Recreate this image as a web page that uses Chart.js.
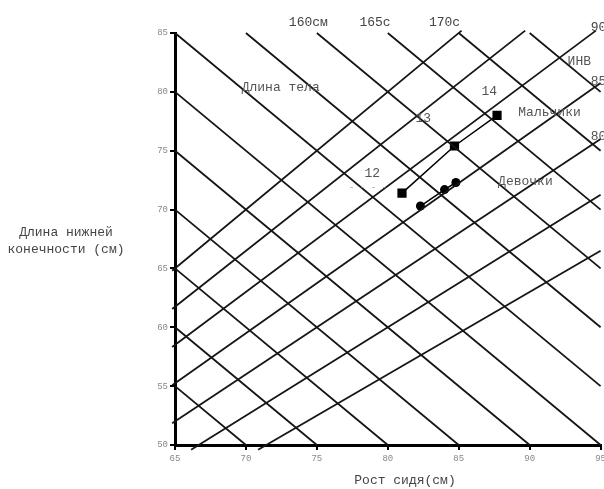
<!DOCTYPE html>
<html>
<head>
<meta charset="utf-8">
<script src="https://cdn.jsdelivr.net/npm/chart.js@4"></script>
<style>
  html, body { margin: 0; padding: 0; background: #fff; overflow: hidden; }
  #wrap { width: 609px; height: 489px; position: relative; }
</style>
</head>
<body>
<div id="wrap"><canvas id="myChart"></canvas></div>
<script>
// рост сидя (x) и длина нижней конечности (y), см
var boysX  = [81.0, 84.7, 87.7];
var boysY  = [71.4, 75.4, 78.0];
var girlsX = [82.3, 84.0, 84.8];
var girlsY = [70.3, 71.7, 72.3];
var ages   = ['12', '13', '14'];

// сетка номограммы: длина тела (x + y) и ИНВ (y / x * 100)
var bodyLengths = [120, 125, 130, 135, 140, 145, 150, 155, 160, 165, 170, 175];
var invLines    = [70, 75, 80, 85, 90, 95, 100];

var xTicks = [65, 70, 75, 80, 85, 90, 95];
var yTicks = [50, 55, 60, 65, 70, 75, 80, 85];

var MONO = '"Liberation Mono", "DejaVu Sans Mono", monospace';

var datasets = [];

bodyLengths.forEach(function(s) {
    var x0 = Math.max(65, s - 85), x1 = Math.min(95, s - 50);
    datasets.push({
        data: [{ x: x0, y: s - x0 }, { x: x1, y: s - x1 }],
        borderColor: '#151515', borderWidth: 1.8, pointRadius: 0,
        showLine: true, clip: false
    });
});

invLines.forEach(function(k) {
    var r = k / 100;
    var x0 = Math.max(64.8, 49.6 / r);
    var x1 = Math.min(95, 85.2 / r);
    datasets.push({
        data: [{ x: x0, y: x0 * r }, { x: x1, y: x1 * r }],
        borderColor: '#151515', borderWidth: 1.8, pointRadius: 0,
        showLine: true, clip: false
    });
});

datasets.push({
    label: 'Мальчики',
    data: boysX.map(function(v, i) { return { x: v, y: boysY[i] }; }),
    showLine: true, borderColor: '#000', borderWidth: 1.5,
    pointStyle: 'rect', pointRadius: 6.5, backgroundColor: '#000', pointBorderWidth: 0
});
datasets.push({
    label: 'Девочки',
    data: girlsX.map(function(v, i) { return { x: v, y: girlsY[i] }; }),
    showLine: true, borderColor: '#000', borderWidth: 1.5,
    pointStyle: 'circle', pointRadius: 4.5, backgroundColor: '#000', pointBorderWidth: 0
});

// подписи в координатах данных
var notes = [
    { t: '160см', x: 74.4, y: 85.9, c: '#444', a: 'center' },
    { t: '165с', x: 79.1, y: 85.9, c: '#444', a: 'center' },
    { t: '170с', x: 84.0, y: 85.9, c: '#444', a: 'center' },
    { t: '90', x: 94.3, y: 85.5, c: '#444', a: 'left' },
    { t: 'ИНВ', x: 93.5, y: 82.6, c: '#555', a: 'center' },
    { t: '85', x: 94.3, y: 80.9, c: '#555', a: 'left' },
    { t: '80', x: 94.3, y: 76.2, c: '#555', a: 'left' },
    { t: 'Длина тела', x: 72.45, y: 80.4, c: '#555', a: 'center' },
    { t: ages[2], x: 87.15, y: 80.0, c: '#555', a: 'center' },
    { t: ages[1], x: 82.5, y: 77.7, c: '#555', a: 'center' },
    { t: ages[0], x: 78.9, y: 73.1, c: '#555', a: 'center' },
    { t: '- - - -', x: 78.6, y: 71.85, c: '#999', a: 'center', small: true },
    { t: 'Мальчики', x: 91.4, y: 78.2, c: '#555', a: 'center' },
    { t: 'Девочки', x: 89.7, y: 72.35, c: '#555', a: 'center' }
];

var notesPlugin = {
    id: 'notes',
    afterDraw: function(chart) {
        var ctx = chart.ctx, xs = chart.scales.x, ys = chart.scales.y;
        ctx.save();
        ctx.textBaseline = 'middle';
        notes.forEach(function(n) {
            ctx.font = (n.small ? '9px ' : '13px ') + MONO;
            ctx.fillStyle = n.c;
            ctx.textAlign = n.a;
            ctx.fillText(n.t, xs.getPixelForValue(n.x), ys.getPixelForValue(n.y));
        });
        // подписи осей
        ctx.font = '13px ' + MONO;
        ctx.fillStyle = '#444';
        ctx.textAlign = 'center';
        ctx.fillText('Длина нижней', 66, 233);
        ctx.fillText('конечности (см)', 66, 250);
        ctx.fillText('Рост сидя(см)', 405, 481);
        ctx.restore();
    }
};

var ctx = document.getElementById('myChart');
new Chart(ctx, {
    type: 'scatter',
    data: { datasets: datasets },
    options: {
        responsive: true,
        maintainAspectRatio: false,
        animation: false,
        events: [],
        layout: { padding: { left: 0, top: 33, right: 2, bottom: 0 } },
        plugins: { legend: { display: false }, tooltip: { enabled: false } },
        scales: {
            x: {
                type: 'linear', min: 65, max: 95,
                afterBuildTicks: function(scale) { scale.ticks = xTicks.map(function(v) { return { value: v }; }); },
                afterFit: function(scale) { scale.height = 44; },
                border: { display: true, color: '#000', width: 3 },
                grid: { display: true, drawOnChartArea: false, drawTicks: true, tickLength: 5, color: '#000', lineWidth: 2 },
                ticks: { color: '#888', padding: 3, font: { family: MONO, size: 9 } }
            },
            y: {
                type: 'linear', min: 50, max: 85,
                afterBuildTicks: function(scale) { scale.ticks = yTicks.map(function(v) { return { value: v }; }); },
                afterFit: function(scale) { scale.width = 175; },
                border: { display: true, color: '#000', width: 3 },
                grid: { display: true, drawOnChartArea: false, drawTicks: true, tickLength: 5, color: '#000', lineWidth: 2 },
                ticks: { color: '#888', padding: 2, font: { family: MONO, size: 9 } }
            }
        }
    },
    plugins: [notesPlugin]
});
</script>
</body>
</html>
